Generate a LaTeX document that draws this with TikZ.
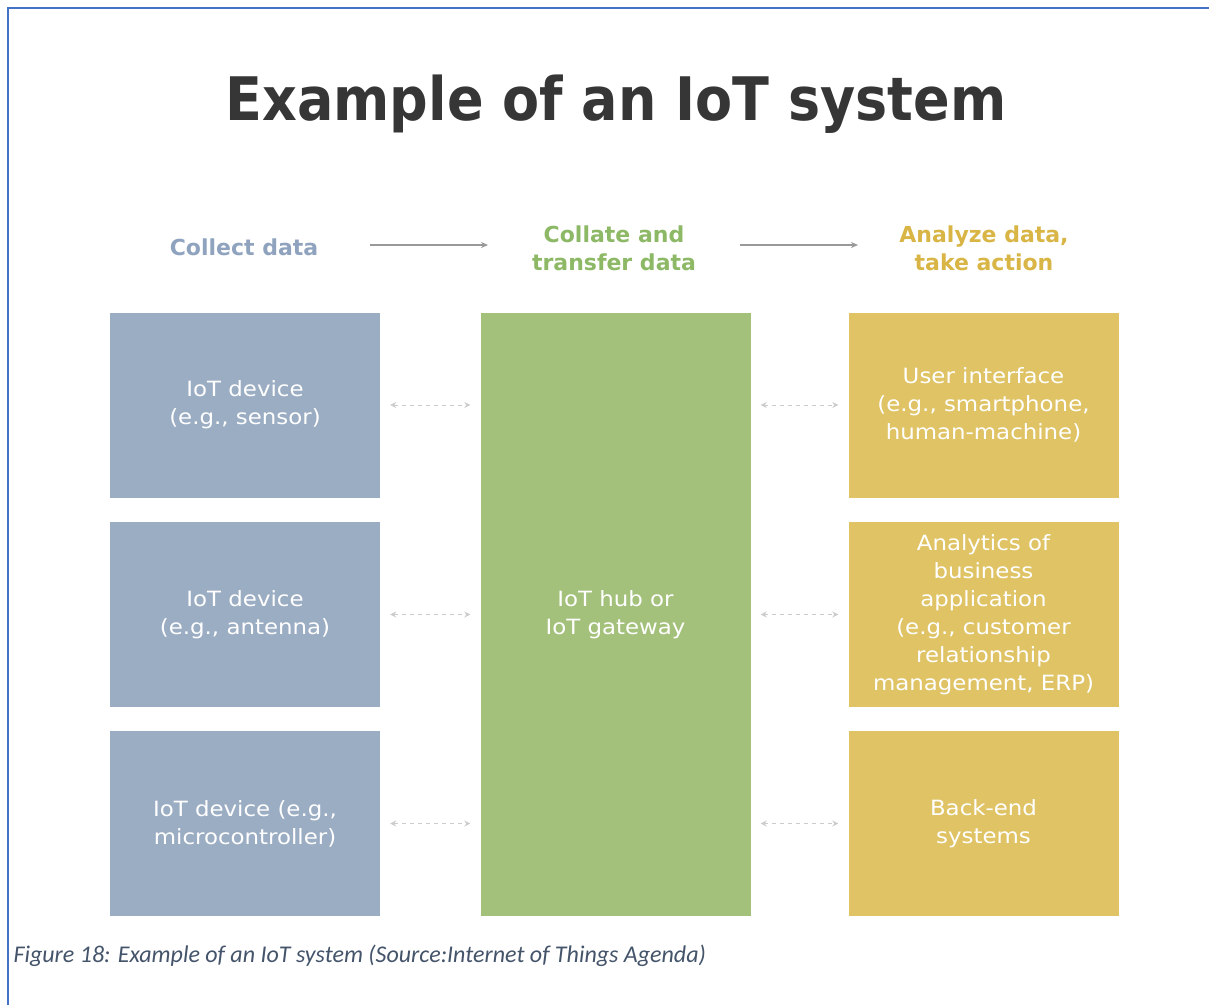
\documentclass[tikz,border=0pt]{standalone}
\usepackage{fontspec}
\setmainfont{DejaVu Sans}
\newfontfamily\titlefont[FakeStretch=0.9]{DejaVu Sans}
\newfontfamily\boxfont[FakeStretch=1.09]{DejaVu Sans}
\newfontfamily\capfont{Carlito}
\usetikzlibrary{arrows.meta}
\definecolor{bluebox}{HTML}{9BADC3}
\definecolor{greenbox}{HTML}{A3C17B}
\definecolor{goldbox}{HTML}{DFC365}
\definecolor{bluehead}{HTML}{8FA3BF}
\definecolor{greenhead}{HTML}{8DB865}
\definecolor{goldhead}{HTML}{D8B545}
\definecolor{titlegray}{HTML}{363636}
\definecolor{capcol}{HTML}{44546A}
\definecolor{framecol}{HTML}{4472C4}
\tikzset{
  box/.style={draw=none, inner sep=0pt, minimum width=270pt, minimum height=185pt, text=white, align=center, font=\boxfont\fontsize{21}{28}\selectfont},
  head/.style={align=center, font=\fontsize{22}{28}\selectfont\bfseries},
  flow/.style={draw=gray!80, line width=1.2pt, -{Stealth[length=7pt,width=6pt]}},
  link/.style={draw=gray!40, line width=1pt, dashed, dash pattern=on 4pt off 4pt, {Stealth[length=6pt,width=6pt]}-{Stealth[length=6pt,width=6pt]}}
}
\begin{document}
\begin{tikzpicture}[x=1pt,y=-1pt]
\useasboundingbox (0,0) rectangle (1209,1005);
\fill[white] (0,0) rectangle (1209,1005);
\draw[framecol, line width=1.5pt] (8,1005) -- (8,8) -- (1209,8);
\node[font=\titlefont\fontsize{60}{70}\selectfont\bfseries, text=titlegray] (title) at (616,104) {Example of an IoT system};
\node[head, text=bluehead] (h1) at (244,247) {Collect data};
\node[head, text=greenhead] (h2) at (614,248) {Collate and\\transfer data};
\node[head, text=goldhead] (h3) at (984,248) {Analyze data,\\take action};
\coordinate (a1s) at (370,245); \coordinate (a1e) at (488,245);
\coordinate (a2s) at (740,245); \coordinate (a2e) at (858,245);
\draw[flow] (a1s) -- (a1e);
\draw[flow] (a2s) -- (a2e);
\node[box, fill=bluebox] (l1) at (245,405) {IoT device\\(e.g., sensor)};
\node[box, fill=bluebox] (l2) at (245,614.5) {IoT device\\(e.g., antenna)};
\node[box, fill=bluebox] (l3) at (245,823.5) {IoT device (e.g.,\\microcontroller)};
\node[box, fill=greenbox, minimum height=603pt] (hub) at (615.5,614.5) {IoT hub or\\IoT gateway};
\node[box, fill=goldbox] (r1) at (983.5,405) {User interface\\(e.g., smartphone,\\human-machine)};
\node[box, fill=goldbox] (r2) at (983.5,614.5) {Analytics of\\business\\application\\(e.g., customer\\relationship\\management, ERP)};
\node[box, fill=goldbox] (r3) at (983.5,823.5) {Back-end\\systems};
\foreach \i in {1,2,3}{
  \draw[link] ([xshift=10pt]l\i.east) -- ([xshift=-10pt]l\i.east -| hub.west);
  \draw[link] ([xshift=10pt]r\i.west -| hub.east) -- ([xshift=-10pt]r\i.west);
}
\node[anchor=west, text=capcol, font=\capfont\itshape\fontsize{24}{26}\selectfont] (cap) at (10,956) {Figure 18: Example of an IoT system (Source:Internet of Things Agenda)};
\end{tikzpicture}
\end{document}
